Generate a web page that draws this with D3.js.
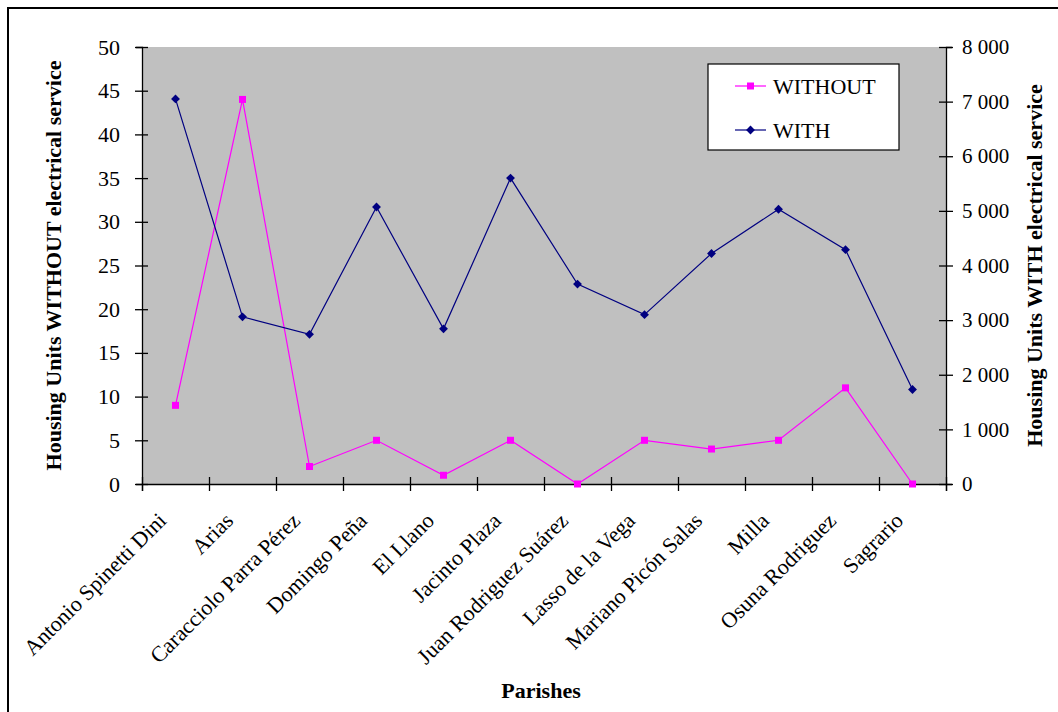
<!DOCTYPE html>
<html>
<head>
<meta charset="utf-8">
<script src="https://cdn.jsdelivr.net/npm/d3@7"></script>
<style>
  html, body { margin: 0; padding: 0; background: #fff; }
  svg { display: block; }
  text { font-family: "Liberation Serif", "Times New Roman", serif; fill: #000; }
</style>
</head>
<body>
<svg id="chart" width="1058" height="712"></svg>
<script>
// Parishes and housing units with / without electrical service
const parishes = [
  "Antonio Spinetti Dini", "Arias", "Caracciolo Parra Pérez", "Domingo Peña",
  "El Llano", "Jacinto Plaza", "Juan Rodriguez Suárez", "Lasso de la Vega",
  "Mariano Picón Salas", "Milla", "Osuna Rodriguez", "Sagrario"
];
const unitsWithout = [9, 44, 2, 5, 1, 5, 0, 5, 4, 5, 11, 0];
const unitsWith = [7050, 3060, 2740, 5070, 2840, 5600, 3660, 3100, 4220, 5030, 4290, 1730];
const leftTicks = [0, 5, 10, 15, 20, 25, 30, 35, 40, 45, 50];
const rightTicks = [0, 1000, 2000, 3000, 4000, 5000, 6000, 7000, 8000];

const serif = '"Liberation Serif", "Times New Roman", serif';
const svg = d3.select("#chart");
const plot = { left: 142, right: 946, top: 47, bottom: 484 };

// Outer frame
svg.append("path")
  .attr("d", "M8,720 L8,8 L1070,8")
  .attr("fill", "none").attr("stroke", "#000").attr("stroke-width", 2);

const x = d3.scaleBand().domain(parishes).range([plot.left, plot.right]).padding(0);
const xEdges = d3.scaleLinear().domain([0, parishes.length]).range([plot.left, plot.right]);
const yL = d3.scaleLinear().domain([0, 50]).range([plot.bottom, plot.top]);
const yR = d3.scaleLinear().domain([0, 8000]).range([plot.bottom, plot.top]);
const cx = p => x(p) + x.bandwidth() / 2;

// Plot area
svg.append("rect")
  .attr("x", plot.left).attr("y", plot.top)
  .attr("width", plot.right - plot.left).attr("height", plot.bottom - plot.top)
  .attr("fill", "#c0c0c0");

const spaceFmt = d3.formatLocale({ decimal: ".", thousands: "\u00a0", grouping: [3], currency: ["", ""] }).format(",");

// Left axis
const gL = svg.append("g").attr("transform", `translate(${plot.left},0)`)
  .call(d3.axisLeft(yL).tickValues(leftTicks).tickSize(6).tickPadding(16).tickFormat(d3.format("d")));
gL.selectAll(".tick line").attr("x1", -7).attr("x2", 6);
gL.selectAll("text").style("font-size", "22px").style("font-family", serif);

// Right axis
const gR = svg.append("g").attr("transform", `translate(${plot.right},0)`)
  .call(d3.axisRight(yR).tickValues(rightTicks).tickSize(6).tickPadding(10).tickFormat(spaceFmt));
gR.selectAll(".tick line").attr("x1", -7).attr("x2", 7);
gR.selectAll("text").style("font-size", "21px").style("font-family", serif);

// Bottom axis: ticks on category edges
const gB = svg.append("g").attr("transform", `translate(0,${plot.bottom})`)
  .call(d3.axisBottom(xEdges).tickValues(d3.range(parishes.length + 1)).tickSize(7).tickFormat(""));
gB.selectAll(".tick line").attr("y1", -7).attr("y2", 7);

[gL, gR, gB].forEach(g => {
  g.select(".domain").attr("stroke", "#000").attr("stroke-width", 1.3);
  g.selectAll(".tick line").attr("stroke", "#000").attr("stroke-width", 1.3);
});

// Category labels, rotated; baseline ends just below-left of each category centre
svg.append("g").selectAll("text")
  .data(parishes).join("text")
  .attr("transform", d => `translate(${cx(d) - 8},${plot.bottom + 38}) rotate(-45)`)
  .attr("text-anchor", "end")
  .style("font-size", "22px")
  .text(d => d);

// Series
const lineL = d3.line().x((d, i) => cx(parishes[i])).y(d => yL(d));
const lineR = d3.line().x((d, i) => cx(parishes[i])).y(d => yR(d));

svg.append("path").datum(unitsWithout).attr("d", lineL)
  .attr("fill", "none").attr("stroke", "#ff00ff").attr("stroke-width", 1.2);
svg.append("path").datum(unitsWith).attr("d", lineR)
  .attr("fill", "none").attr("stroke", "#000080").attr("stroke-width", 1.2);

const square = d3.symbol().type(d3.symbolSquare).size(49);
const diamond = d3.symbol().type(d3.symbolDiamond2).size(50);

svg.append("g").selectAll("path").data(unitsWithout).join("path")
  .attr("transform", (d, i) => `translate(${cx(parishes[i])},${yL(d)})`)
  .attr("d", square).attr("fill", "#ff00ff");
svg.append("g").selectAll("path").data(unitsWith).join("path")
  .attr("transform", (d, i) => `translate(${cx(parishes[i])},${yR(d)})`)
  .attr("d", diamond).attr("fill", "#000080");

// Axis titles
svg.append("text")
  .attr("transform", `translate(61,${(plot.top + plot.bottom) / 2}) rotate(-90)`)
  .attr("text-anchor", "middle")
  .style("font-size", "22px").style("font-weight", "bold")
  .text("Housing Units WITHOUT electrical service");
svg.append("text")
  .attr("transform", `translate(1042,${(plot.top + plot.bottom) / 2}) rotate(-90)`)
  .attr("text-anchor", "middle")
  .style("font-size", "22px").style("font-weight", "bold")
  .text("Housing Units WITH electrical service");
svg.append("text")
  .attr("x", 541).attr("y", 698)
  .attr("text-anchor", "middle")
  .style("font-size", "22px").style("font-weight", "bold")
  .text("Parishes");

// Legend
const legend = svg.append("g");
legend.append("rect")
  .attr("x", 708).attr("y", 64).attr("width", 191).attr("height", 86)
  .attr("fill", "#fff").attr("stroke", "#000").attr("stroke-width", 1.2);
const legendItems = [
  { label: "WITHOUT", color: "#ff00ff", sym: square, y: 86 },
  { label: "WITH", color: "#000080", sym: diamond, y: 130 }
];
legendItems.forEach(it => {
  legend.append("line").attr("x1", 735).attr("x2", 766).attr("y1", it.y).attr("y2", it.y)
    .attr("stroke", it.color).attr("stroke-width", 1.2);
  legend.append("path").attr("transform", `translate(750.5,${it.y})`).attr("d", it.sym).attr("fill", it.color);
  legend.append("text").attr("x", 773).attr("y", it.y).attr("dy", "0.35em")
    .style("font-size", "22px").text(it.label);
});
</script>
</body>
</html>
